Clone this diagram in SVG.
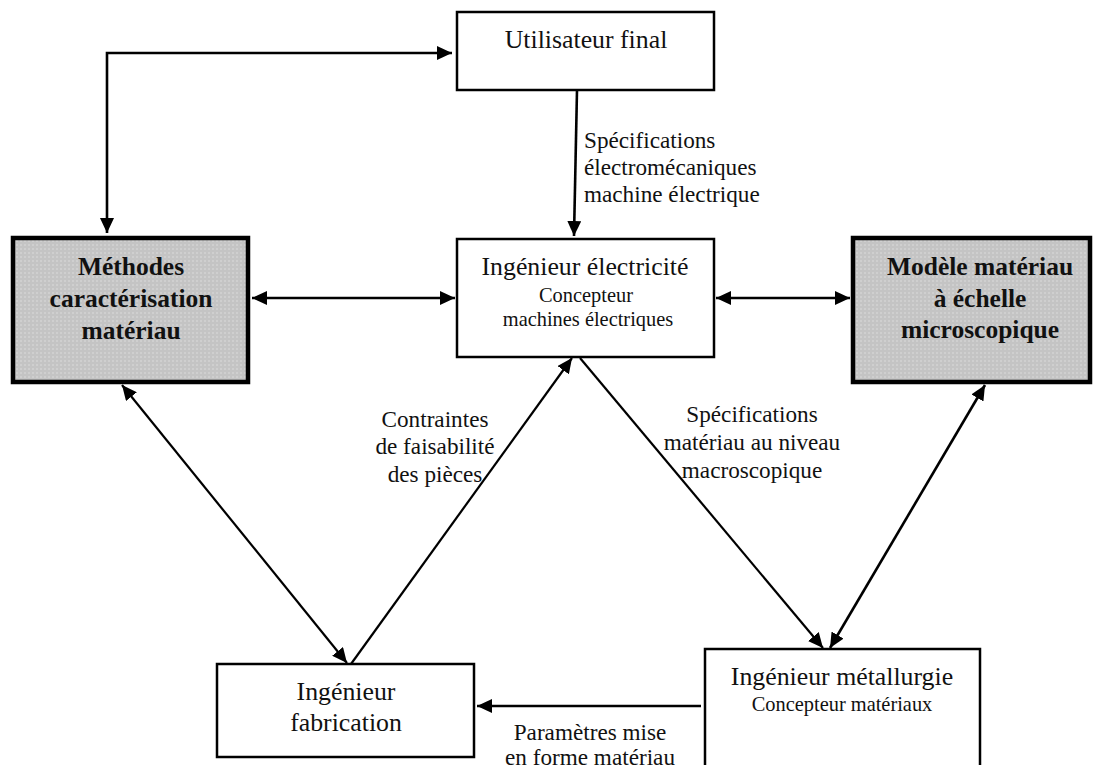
<svg xmlns="http://www.w3.org/2000/svg" width="1104" height="765" viewBox="0 0 1104 765" font-family="'Liberation Serif', 'Times New Roman', 'DejaVu Serif', serif">
<defs>
<style>
text{font-family:'Liberation Serif','Times New Roman','DejaVu Serif',serif;fill:#111;}
.t{font-size:25.8px;text-anchor:middle;}
.s{font-size:20.4px;text-anchor:middle;}
.b{font-size:25.5px;font-weight:bold;text-anchor:middle;}
.l{font-size:23.2px;}
.lc{font-size:23.2px;text-anchor:middle;}
.box{fill:#fff;stroke:#000;stroke-width:2.5;}
.gbox{fill:url(#grid);stroke:#000;stroke-width:4.5;}
.c{fill:none;stroke:#000;stroke-width:2.6;}
.d{fill:none;stroke:#000;stroke-width:2.2;}
</style>
<pattern id="grid" width="4" height="4" patternUnits="userSpaceOnUse">
<rect width="4" height="4" fill="#c4c4c4"/>
<rect width="2" height="2" fill="#cfcfcf"/>
</pattern>
<marker id="ah" markerUnits="userSpaceOnUse" markerWidth="16" markerHeight="14" refX="15" refY="7" orient="auto-start-reverse">
<path d="M0,0 L15,7 L0,14 z" fill="#000"/>
</marker>
</defs>
<g id="connectors">
<polyline class="c" points="107,233 107,53 452,53" marker-start="url(#ah)" marker-end="url(#ah)"/>
<line class="c" x1="577" y1="90" x2="574" y2="236" marker-end="url(#ah)"/>
<line class="c" x1="252" y1="298" x2="455" y2="298" marker-start="url(#ah)" marker-end="url(#ah)"/>
<line class="c" x1="716" y1="298" x2="850" y2="298" marker-start="url(#ah)" marker-end="url(#ah)"/>
<line class="d" x1="122" y1="385" x2="347" y2="663" marker-start="url(#ah)" marker-end="url(#ah)"/>
<line class="d" x1="351" y1="664" x2="572" y2="358" marker-end="url(#ah)"/>
<line class="d" x1="580" y1="358" x2="823" y2="648" marker-end="url(#ah)"/>
<line class="c" x1="985" y1="385" x2="830" y2="648" marker-start="url(#ah)" marker-end="url(#ah)"/>
<line class="c" x1="701" y1="706" x2="477" y2="706" marker-end="url(#ah)"/>
<text class="l" x="584" y="148">Spécifications</text>
<text class="l" x="584" y="175">électromécaniques</text>
<text class="l" x="584" y="202">machine électrique</text>
<text class="lc" x="435" y="427">Contraintes</text>
<text class="lc" x="435" y="454">de faisabilité</text>
<text class="lc" x="435" y="482">des pièces</text>
<text class="lc" x="752" y="422">Spécifications</text>
<text class="lc" x="752" y="450">matériau au niveau</text>
<text class="lc" x="752" y="478">macroscopique</text>
<text class="lc" x="590" y="740">Paramètres mise</text>
<text class="lc" x="590" y="765">en forme matériau</text>
</g>
<g id="utilisateur">
<rect class="box" x="457" y="12" width="257" height="78"/>
<text class="t" x="586" y="48">Utilisateur final</text>
</g>
<g id="ing-electricite">
<rect class="box" x="457" y="239" width="257" height="118"/>
<text class="t" x="585" y="275">Ingénieur électricité</text>
<text class="s" x="586" y="302">Concepteur</text>
<text class="s" x="588" y="326">machines électriques</text>
</g>
<g id="methodes">
<rect class="gbox" x="13" y="238" width="235" height="144"/>
<text class="b" x="131" y="275">Méthodes</text>
<text class="b" x="131" y="307">caractérisation</text>
<text class="b" x="131" y="339">matériau</text>
</g>
<g id="modele">
<rect class="gbox" x="853" y="238" width="237" height="144"/>
<text class="b" x="980" y="275">Modèle matériau</text>
<text class="b" x="980" y="307">à échelle</text>
<text class="b" x="980" y="338">microscopique</text>
</g>
<g id="ing-fabrication">
<rect class="box" x="217" y="664" width="257" height="93"/>
<text class="t" x="346" y="700">Ingénieur</text>
<text class="t" x="346" y="731">fabrication</text>
</g>
<g id="ing-metallurgie">
<rect class="box" x="705" y="649" width="275" height="130"/>
<text class="t" x="842" y="685">Ingénieur métallurgie</text>
<text class="s" x="842" y="711">Concepteur matériaux</text>
</g>
</svg>
